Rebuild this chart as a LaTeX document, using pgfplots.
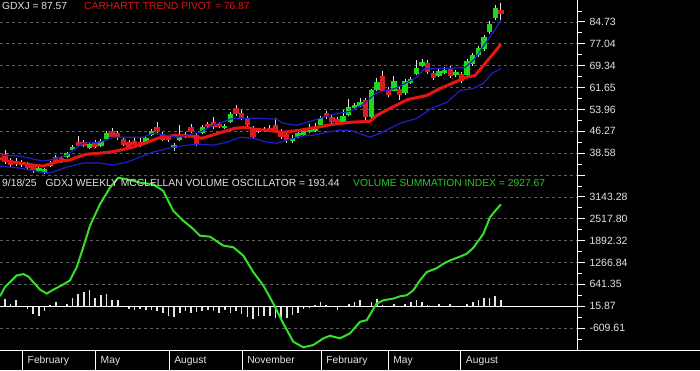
\documentclass[border=0pt]{standalone}
\usepackage{pgfplots}
\usepackage{pgfplotstable}
\pgfplotsset{compat=1.18}
\usepackage{fontspec}
\setmainfont{Liberation Sans}
\definecolor{cgreen}{RGB}{25,220,25}
\definecolor{cred}{RGB}{215,30,35}
\definecolor{lred}{RGB}{235,20,20}
\definecolor{lblue}{RGB}{30,30,205}
\definecolor{gridc}{RGB}{95,95,95}
\definecolor{txt}{RGB}{228,228,228}
\definecolor{vsig}{RGB}{50,225,40}
\definecolor{ttred}{RGB}{215,25,25}
\definecolor{ttgreen}{RGB}{40,200,40}
\newcommand\tfont{\fontsize{10.5}{12}\selectfont}
\newcommand\hfont{\fontsize{10.3}{12}\selectfont}

\pgfplotstableread{
i o h l c
0 38.23 39.63 34.73 35.43
1 36.13 36.83 33.68 34.38
2 35.78 36.83 34.03 34.73
3 34.38 36.13 33.68 35.43
4 34.73 35.43 32.63 33.33
5 34.03 34.73 31.59 32.63
6 32.28 34.03 31.94 33.33
7 31.94 33.33 31.24 32.98
8 34.03 35.78 33.68 35.08
9 37.18 37.88 34.73 35.43
10 36.83 37.53 35.08 35.43
11 37.18 38.93 36.83 38.58
12 39.63 41.38 39.28 40.68
13 42.42 44.52 40.68 41.03
14 42.42 43.12 40.68 41.03
15 40.33 42.07 39.98 41.72
16 42.42 43.12 40.33 40.68
17 41.03 43.47 40.68 42.77
18 43.47 46.27 43.12 45.57
19 46.27 47.32 43.82 44.17
20 45.57 46.27 43.12 43.82
21 43.47 44.17 41.03 41.38
22 42.42 43.12 40.33 40.68
23 42.77 44.17 40.68 41.38
24 42.42 43.82 40.68 41.03
25 42.07 44.52 41.72 43.82
26 44.87 46.97 44.52 46.27
27 47.67 49.42 45.57 45.92
28 45.22 45.92 42.77 43.12
29 44.17 44.87 42.42 43.12
30 40.33 42.07 39.28 41.38
31 43.12 48.37 42.77 44.87
32 44.17 45.92 43.82 45.22
33 47.67 48.72 45.57 45.92
34 44.87 45.57 41.03 41.72
35 45.57 48.37 45.22 47.67
36 48.72 49.42 46.97 47.67
37 49.42 51.16 46.97 47.67
38 48.72 49.42 47.32 47.67
39 47.32 48.72 46.97 48.02
40 49.42 52.91 49.07 52.21
41 54.31 55.36 51.51 52.21
42 52.56 53.61 50.12 50.47
43 50.81 51.51 48.02 48.37
44 47.32 48.02 43.47 44.17
45 45.92 47.32 45.57 46.62
46 46.97 47.67 45.92 46.27
47 47.32 48.37 45.92 46.27
48 48.37 50.81 45.92 46.27
49 46.27 46.97 43.47 44.17
50 45.22 45.92 42.07 43.12
51 42.77 44.87 42.07 43.82
52 44.17 46.27 43.82 45.57
53 44.87 46.62 44.52 46.27
54 45.92 48.72 45.57 46.97
55 46.27 49.07 45.92 47.67
56 48.37 51.51 48.02 50.81
57 52.56 53.26 50.47 51.16
58 51.16 52.21 49.07 49.42
59 50.47 51.16 48.37 49.07
60 49.42 53.61 49.07 51.51
61 51.86 57.46 51.51 54.66
62 54.31 56.06 53.96 55.36
63 55.01 57.81 54.66 56.41
64 57.11 57.81 49.77 51.16
65 51.16 61.30 49.77 60.95
66 60.95 65.15 60.25 63.75
67 65.85 67.60 59.90 60.60
68 60.95 62.00 58.16 58.86
69 60.60 65.85 60.25 64.10
70 61.30 62.00 57.11 58.86
71 59.56 64.80 58.86 64.10
72 63.40 65.50 63.05 64.80
73 66.55 71.44 66.20 68.65
74 69.34 71.79 69.00 70.74
75 70.39 71.44 66.55 67.25
76 66.90 67.60 64.45 65.15
77 65.85 68.30 65.50 67.60
78 66.90 69.00 66.55 67.95
79 68.30 69.34 65.15 65.85
80 66.20 67.95 65.50 67.25
81 66.55 67.25 63.40 64.10
82 66.20 71.79 65.50 71.09
83 70.04 73.89 69.34 73.19
84 73.19 76.34 72.49 75.64
85 75.29 80.18 74.59 79.48
86 81.23 85.08 80.53 84.03
87 86.13 90.67 85.43 89.62
88 88.93 91.37 85.08 87.57
}\candles

\pgfplotsset{
  panel/.style={
    scale only axis, width=577pt, height=175pt,
    xmin=-0.887, xmax=101.5,
    axis x line=none, axis y line=right,
    axis line style={-, white, line width=1pt},
    tick align=outside,
    major tick length=8pt, minor tick length=5pt,
    tick style={white, line width=0.8pt},
    ymajorgrids,
    major grid style={gridc, dash pattern=on 3pt off 3pt, line width=0.6pt},
    yticklabel style={font=\tfont, text=txt, anchor=west, xshift=1pt},
  }
}

\begin{document}
\begin{tikzpicture}
\fill[black] (0,0) rectangle (700pt,370pt);

% ---------- upper panel: GDXJ weekly candles ----------
\begin{axis}[panel, at={(0pt,195pt)}, anchor=south west,
  ymin=30.89, ymax=92.42,
  ytick={30.89,38.58,46.27,53.96,61.65,69.34,77.04,84.73},
  yticklabels={{},38.58,46.27,53.96,61.65,69.34,77.04,84.73},
  minor ytick={34.735,42.425,50.115,57.805,65.495,73.19,80.885,88.575},
]
\pgfplotsinvokeforeach{0,...,88}{%
  \pgfplotstablegetelem{#1}{i}\of\candles\edef\candI{\pgfplotsretval}%
  \pgfplotstablegetelem{#1}{o}\of\candles\edef\candO{\pgfplotsretval}%
  \pgfplotstablegetelem{#1}{h}\of\candles\edef\candH{\pgfplotsretval}%
  \pgfplotstablegetelem{#1}{l}\of\candles\edef\candL{\pgfplotsretval}%
  \pgfplotstablegetelem{#1}{c}\of\candles\edef\candC{\pgfplotsretval}%
  \ifdim\candC pt<\candO pt\def\candCol{cred}\else\def\candCol{cgreen}\fi
  \edef\tmp{\noexpand\addplot[draw=txt, line width=0.9pt, forget plot] coordinates {(\candI,\candL) (\candI,\candH)};
    \noexpand\addplot[draw=\candCol, line width=5.4pt, forget plot] coordinates {(\candI,\candO) (\candI,\candC)};}%
  \tmp
}
% Carhartt trend pivot
\addplot[lred, line width=3pt] table {
x y
-0.89 36.83
0.89 35.43
2.66 35.08
4.97 34.38
6.74 34.03
7.98 34.73
9.76 35.78
11.53 36.13
12.78 37.18
14.55 38.23
16.86 38.58
18.63 38.93
20.40 39.63
22.71 40.68
24.84 42.07
27.15 43.82
30.16 44.87
33.18 44.52
34.95 43.82
36.73 44.87
39.04 46.27
40.81 47.32
42.94 47.67
44.36 46.97
46.49 46.62
49.33 45.92
52.34 46.62
55.36 47.67
58.20 48.72
61.21 49.42
64.76 49.77
66.00 51.86
68.31 54.31
71.50 57.46
74.88 58.86
77.18 61.30
79.31 63.05
81.62 65.15
83.39 65.85
85.17 70.04
86.94 74.24
88.00 76.87
};
% upper band
\addplot[lblue, line width=1.2pt] table {
x y
-0.89 37.88
2.66 37.53
4.97 36.48
6.74 35.78
8.87 36.48
11.00 37.88
12.78 40.68
13.84 42.07
16.86 42.42
19.16 44.17
21.65 44.17
24.49 44.17
26.26 45.57
28.74 44.87
30.52 44.17
32.29 44.87
34.60 45.92
36.91 48.37
40.45 50.81
45.24 50.81
48.26 50.47
49.33 49.07
51.81 48.37
55.36 50.47
58.20 52.21
61.21 53.26
63.52 55.71
66.00 59.90
69.20 61.30
72.75 64.80
74.52 68.30
77.54 68.30
81.62 68.65
83.39 71.79
85.17 77.04
86.94 81.93
88.00 85.43
};
% lower band
\addplot[lblue, line width=1.2pt] table {
x y
-0.89 34.03
2.66 33.33
6.21 31.94
7.98 31.59
11.00 33.68
13.84 35.08
16.86 35.08
19.16 34.38
21.65 35.43
23.95 37.18
26.26 38.93
29.81 40.68
32.29 41.38
34.60 41.72
36.91 41.38
39.39 42.42
41.70 44.17
44.00 43.82
46.49 42.42
48.26 42.07
50.04 43.12
52.34 44.52
54.65 44.87
57.13 45.92
59.44 46.62
61.21 46.62
64.76 44.17
66.54 45.57
70.08 49.07
73.10 50.81
75.94 54.66
78.42 56.41
80.73 60.60
83.04 61.30
84.81 63.05
86.59 66.90
88.00 68.30
};
\end{axis}

% ---------- lower panel: McClellan volume oscillator / summation index ----------
\begin{axis}[panel, at={(0pt,20pt)}, anchor=south west,
  ymin=-1235.09, ymax=3768.76,
  ytick={-1235.09,-609.61,15.87,641.35,1266.84,1892.32,2517.80,3143.28,3768.76},
  yticklabels={{},-609.61,15.87,641.35,1266.84,1892.32,2517.80,3143.28,{}},
  minor ytick={-922.35,-296.87,328.61,954.10,1579.58,2205.06,2830.54,3456.02},
]
\addplot[white, line width=1pt] coordinates {(-1,15.87) (102,15.87)};
\addplot[ycomb, txt, line width=1.6pt] table {
x y
0 219
1 94
2 199
3 28
4 -57
5 -208
6 -264
7 -134
8 57
9 142
10 28
11 94
12 247
13 361
14 418
15 483
16 264
17 333
18 361
19 190
20 190
21 28
22 -65
23 -94
24 -57
25 -94
26 -77
27 -134
28 -190
29 -264
30 -304
31 -190
32 -134
33 -190
34 -151
35 -134
36 -77
37 -134
38 -171
39 -94
40 -171
41 -134
42 -208
43 -284
44 -341
45 -276
46 -270
47 -270
48 -307
49 -350
50 -313
51 -222
52 -171
53 -65
54 -37
55 57
56 134
57 57
58 9
59 -94
60 37
61 94
62 151
63 208
64 37
65 151
66 227
67 57
68 37
69 94
70 37
71 77
72 134
73 190
74 134
75 57
76 28
77 94
78 37
79 94
80 37
81 37
82 94
83 134
84 208
85 264
86 264
87 313
88 193.44
};
\addplot[vsig, line width=2pt] table {
x y
-0.89 300
0 565
0.89 707
2.08 897
3.25 934
4.13 869
5.02 707
6.21 491
7.40 377
8.57 491
10.06 613
11.53 755
12.72 1133
13.89 1702
15.08 2319
16.86 2936
18.63 3408
20.10 3692
21.59 3646
23.95 3550
26.31 3504
28.09 3314
29.86 2745
31.64 2461
33.41 2225
34.60 2034
36.37 2006
38.73 1750
40.51 1702
42.28 1466
44.06 991
45.83 613
47.61 93
49.38 -476
51.15 -999
52.93 -1158
54.70 -1093
56.48 -902
57.67 -828
59.44 -902
61.21 -760
62.99 -430
64.18 -382
65.95 93
67.12 187
68.90 235
70.08 300
71.27 329
72.45 471
73.63 755
74.82 991
76.60 1105
77.77 1230
78.96 1324
80.73 1437
81.92 1514
83.09 1685
84.87 2083
86.05 2555
87.24 2793
88.00 2927.67
};
\end{axis}

% ---------- month strip ----------
\begin{axis}[at={(0pt,0pt)}, anchor=south west,
  scale only axis, width=577pt, height=20pt,
  xmin=-0.887, xmax=101.5, ymin=0, ymax=1,
  axis line style={draw=none},
  ytick=\empty,
  xtick={3.14,16.09,29.15,42.10,56.12,68.00,80.90},
  xticklabels={February,May,August,November,February,May,August},
  major tick length=0pt,
  xmajorgrids,
  major grid style={white, line width=1pt},
  xticklabel style={font=\hfont, text=txt, anchor=base west, xshift=1.5pt, yshift=7pt},
]
\end{axis}

\draw[white, line width=1pt] (0,20pt) -- (700pt,20pt);

\node[anchor=base west, inner sep=0pt, text=txt, font=\hfont] at (2pt,360pt) {GDXJ = 87.57};
\node[anchor=base west, inner sep=0pt, text=ttred, font=\hfont] at (84pt,360pt) {CARHARTT TREND PIVOT = 76.87};
\node[anchor=base west, inner sep=0pt, text=txt, font=\hfont] at (2pt,183.5pt) {9/18/25\hspace{9pt}GDXJ WEEKLY MCCLELLAN VOLUME OSCILLATOR = 193.44};
\node[anchor=base west, inner sep=0pt, text=ttgreen, font=\hfont] at (353pt,183.5pt) {VOLUME SUMMATION INDEX = 2927.67};

\pgfresetboundingbox
\useasboundingbox (0,0) rectangle (700pt,370pt);
\end{tikzpicture}
\end{document}
